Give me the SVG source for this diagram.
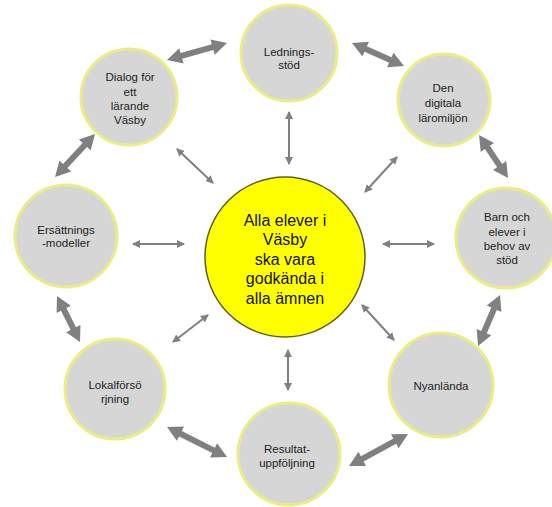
<svg xmlns="http://www.w3.org/2000/svg" width="552" height="507" viewBox="0 0 552 507">
<defs>
<style>
.node{fill:#d6d6d6;stroke:#ecec84;stroke-width:3}
.core{fill:#ffff00;stroke:#5e5e2c;stroke-width:1.5}
.t{font-family:"Liberation Sans",Arial,sans-serif;font-size:11.5px;fill:#222;text-anchor:middle}
.tc{font-family:"Liberation Sans",Arial,sans-serif;font-size:16px;fill:#111;text-anchor:middle}
.thick{fill:#808080}
.thin{stroke:#808080;stroke-width:2;fill:none;marker-start:url(#ah);marker-end:url(#ah)}
</style>
<marker id="ah" markerUnits="userSpaceOnUse" markerWidth="8" markerHeight="8" refX="7" refY="4" orient="auto-start-reverse">
<path d="M0,0 L8,4 L0,8 z" fill="#808080"/>
</marker>
</defs>
<rect width="552" height="507" fill="#fff"/>
<g id="connectors">
<path class="thick" transform="translate(167,60) rotate(-15.8)" d="M0,0 L15,-8 L15,-3 L47.4,-3 L47.4,-8 L62.4,0 L47.4,8 L47.4,3 L15,3 L15,8 Z"/>
<path class="thick" transform="translate(352,43) rotate(23.9)" d="M0,0 L15,-8 L15,-3 L41.9,-3 L41.9,-8 L56.9,0 L41.9,8 L41.9,3 L15,3 L15,8 Z"/>
<path class="thick" transform="translate(479,135) rotate(56)" d="M0,0 L15,-8 L15,-3 L36.9,-3 L36.9,-8 L51.9,0 L36.9,8 L36.9,3 L15,3 L15,8 Z"/>
<path class="thick" transform="translate(500,295) rotate(113.3)" d="M0,0 L15,-8 L15,-3 L40.5,-3 L40.5,-8 L55.5,0 L40.5,8 L40.5,3 L15,3 L15,8 Z"/>
<path class="thick" transform="translate(408,434) rotate(151.5)" d="M0,0 L15,-8 L15,-3 L52.1,-3 L52.1,-8 L67.1,0 L52.1,8 L52.1,3 L15,3 L15,8 Z"/>
<path class="thick" transform="translate(167,427) rotate(26.6)" d="M0,0 L15,-8 L15,-3 L52.1,-3 L52.1,-8 L67.1,0 L52.1,8 L52.1,3 L15,3 L15,8 Z"/>
<path class="thick" transform="translate(57,296) rotate(63.4)" d="M0,0 L15,-8 L15,-3 L36.4,-3 L36.4,-8 L51.4,0 L36.4,8 L36.4,3 L15,3 L15,8 Z"/>
<path class="thick" transform="translate(95,134) rotate(132.9)" d="M0,0 L15,-8 L15,-3 L43.7,-3 L43.7,-8 L58.7,0 L43.7,8 L43.7,3 L15,3 L15,8 Z"/>
<line class="thin" x1="133" y1="244" x2="184" y2="244"/>
<line class="thin" x1="383" y1="244" x2="434" y2="244"/>
<line class="thin" x1="289" y1="112" x2="289" y2="164"/>
<line class="thin" x1="288" y1="350" x2="288" y2="390"/>
<line class="thin" x1="177" y1="149" x2="213" y2="183"/>
<line class="thin" x1="397" y1="157" x2="365" y2="192"/>
<line class="thin" x1="208" y1="315" x2="173" y2="342"/>
<line class="thin" x1="362" y1="305" x2="394" y2="340"/>
</g>
<g id="center">
<circle class="core" cx="285" cy="257" r="80"/>
<text class="tc" x="285" y="225.5">Alla elever i</text>
<text class="tc" x="285" y="245">Väsby</text>
<text class="tc" x="285" y="264.5">ska vara</text>
<text class="tc" x="285" y="284">godkända i</text>
<text class="tc" x="285" y="303.5">alla ämnen</text>
</g>
<g id="ledningsstod">
<circle class="node" cx="289" cy="53" r="48"/>
<text class="t" x="289" y="56">Lednings-</text>
<text class="t" x="289" y="69">stöd</text>
</g>
<g id="digitala">
<circle class="node" cx="444" cy="100" r="46"/>
<text class="t" x="443" y="92">Den</text>
<text class="t" x="443" y="107">digitala</text>
<text class="t" x="443" y="122">läromiljön</text>
</g>
<g id="barn">
<circle class="node" cx="506" cy="238" r="50"/>
<text class="t" x="507" y="221">Barn och</text>
<text class="t" x="507" y="236">elever i</text>
<text class="t" x="507" y="250">behov av</text>
<text class="t" x="507" y="264">stöd</text>
</g>
<g id="nyanlanda">
<circle class="node" cx="441" cy="385" r="52"/>
<text class="t" x="441" y="390">Nyanlända</text>
</g>
<g id="resultat">
<circle class="node" cx="289" cy="454" r="51"/>
<text class="t" x="287" y="453">Resultat-</text>
<text class="t" x="287" y="467">uppföljning</text>
</g>
<g id="lokal">
<circle class="node" cx="115" cy="389" r="50"/>
<text class="t" x="115" y="389">Lokalförsö</text>
<text class="t" x="115" y="403">rjning</text>
</g>
<g id="ersattning">
<circle class="node" cx="66" cy="236" r="51"/>
<text class="t" x="66" y="234">Ersättnings</text>
<text class="t" x="66" y="247">-modeller</text>
</g>
<g id="dialog">
<circle class="node" cx="129" cy="97" r="48"/>
<text class="t" x="130" y="81">Dialog för</text>
<text class="t" x="130" y="96">ett</text>
<text class="t" x="130" y="110">lärande</text>
<text class="t" x="130" y="124">Väsby</text>
</g>
</svg>
